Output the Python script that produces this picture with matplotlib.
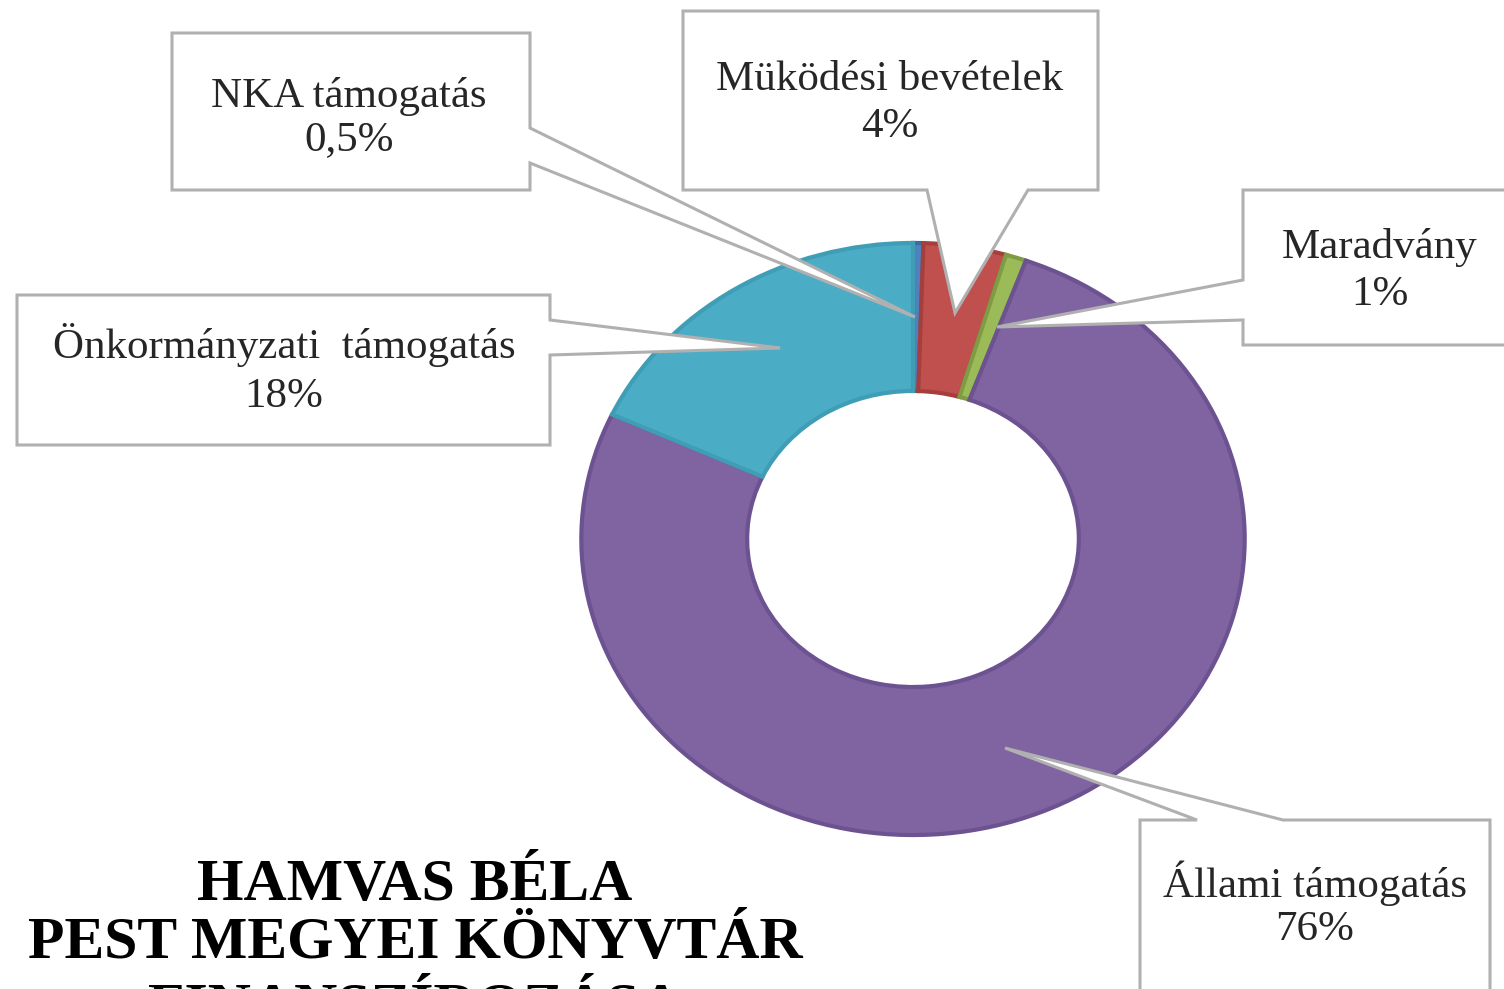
import matplotlib.pyplot as plt
from matplotlib.patches import Polygon

labels = ['NKA támogatás', 'Müködési bevételek', 'Maradvány', 'Állami támogatás', 'Önkormányzati  támogatás']
values = [0.5, 4, 1, 76, 18]
pct_text = ['0,5%', '4%', '1%', '76%', '18%']
colors = ['#4F81BD', '#C0504D', '#9BBB59', '#8064A2', '#4BACC6']
edges = ['#3f6aa0', '#a63f3c', '#7f9c45', '#6c5290', '#3f9db6']
title_lines = ['HAMVAS BÉLA', 'PEST MEGYEI KÖNYVTÁR', 'FINANSZÍROZÁSA']

W, H = 1504, 989
fig = plt.figure(figsize=(W / 100, H / 100), dpi=100)
fig.patch.set_facecolor('white')

# donut (slightly squashed, like the original picture)
cx, cy, rx, ry = 913, 539, 335, 299
pax = fig.add_axes([(cx - rx) / W, (H - cy - ry) / H, 2 * rx / W, 2 * ry / H])
wedges, _ = pax.pie(values, colors=colors, startangle=90, counterclock=False,
                    radius=1, wedgeprops=dict(width=0.5, linewidth=3))
for w, ec in zip(wedges, edges):
    w.set_edgecolor(ec)
pax.set_xlim(-1.01, 1.01)
pax.set_ylim(-1.01, 1.01)
pax.set_aspect('auto')
pax.axis('off')

# overlay in pixel coordinates for callouts and title
ax = fig.add_axes([0, 0, 1, 1], zorder=5)
ax.set_xlim(0, W)
ax.set_ylim(H, 0)
ax.patch.set_alpha(0)
ax.axis('off')

# box (left, top, right, bottom), pointer side, pointer base (a, b), tip
callouts = [
    ((172, 33, 530, 190), 'right', (128, 163), (915, 317), 349, (107, 150)),
    ((683, 11, 1098, 190), 'bottom', (927, 1028), (955, 313), 890, (90, 137)),
    ((1243, 190, 1530, 345), 'left', (280, 320), (997, 327), 1380, (258, 305)),
    ((1140, 820, 1490, 1010), 'top', (1197, 1283), (1005, 748), 1315, (897, 940)),
    ((17, 295, 550, 445), 'right', (320, 355), (780, 348), 284, (358, 407)),
]

for i, (box, side, base, tip, tx, tys) in enumerate(callouts):
    L, T, R, B = box
    a, b = base
    if side == 'right':
        pts = [(L, T), (R, T), (R, a), tip, (R, b), (R, B), (L, B)]
    elif side == 'left':
        pts = [(L, T), (R, T), (R, B), (L, B), (L, b), tip, (L, a)]
    elif side == 'bottom':
        pts = [(L, T), (R, T), (R, B), (b, B), tip, (a, B), (L, B)]
    else:
        pts = [(L, T), (a, T), tip, (b, T), (R, T), (R, B), (L, B)]
    ax.add_patch(Polygon(pts, closed=True, facecolor='white', edgecolor='#b0b0b0',
                         linewidth=2.2, joinstyle='miter'))
    ax.text(tx, tys[0], labels[i], ha='center', va='baseline',
            fontsize=31, family='Liberation Serif', color='#262626')
    ax.text(tx, tys[1], pct_text[i], ha='center', va='baseline',
            fontsize=31, family='Liberation Serif', color='#262626')

# title sits low and its last line is cut by the bottom edge, as in the original
for line, y in zip(title_lines, [900, 958, 1024]):
    ax.text(415, y, line, ha='center', va='baseline', fontsize=43,
            family='Liberation Serif', fontweight='bold', color='black')

fig.savefig('out.png', dpi=100, facecolor='white')
